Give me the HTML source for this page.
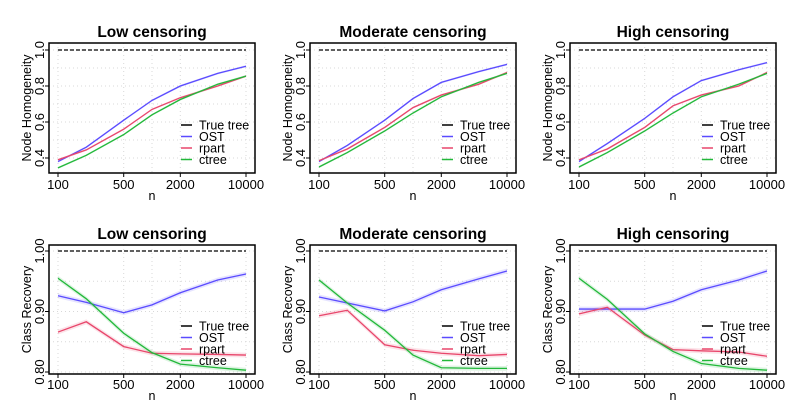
<!DOCTYPE html>
<html><head><meta charset="utf-8"><style>
body{margin:0;background:#fff}
svg{display:block;font-family:"Liberation Sans",Arial,sans-serif}
</style></head><body>
<svg id="c" width="809" height="410"></svg>
<script>
const nValues=[100,200,500,1000,2000,5000,10000];
const xTickLabels=[100,500,2000,10000];
const topTicks=[0.4,0.6,0.8,1.0];
const bottomTicks=[0.80,0.90,1.00];
const titles=["Low censoring","Moderate censoring","High censoring"];
const seriesNames=["True tree","OST","rpart","ctree"];
const colors=["#000000","#5a4bff","#e8466b","#22b83a"];
// Node homogeneity
const nhOST=[[0.38,0.46,0.61,0.72,0.80,0.87,0.91],[0.38,0.47,0.61,0.73,0.82,0.88,0.92],[0.38,0.48,0.62,0.74,0.83,0.89,0.93]];
const nhRpart=[[0.39,0.445,0.56,0.67,0.735,0.80,0.855],[0.385,0.45,0.57,0.68,0.75,0.81,0.875],[0.39,0.45,0.57,0.69,0.75,0.80,0.875]];
const nhCtree=[[0.345,0.415,0.53,0.64,0.725,0.81,0.855],[0.35,0.43,0.55,0.65,0.74,0.82,0.87],[0.35,0.43,0.55,0.65,0.74,0.81,0.87]];
// Class recovery
const crOST=[[0.926,0.915,0.898,0.911,0.931,0.952,0.962],[0.924,0.914,0.901,0.916,0.936,0.954,0.967],[0.904,0.904,0.904,0.917,0.936,0.952,0.967]];
const crRpart=[[0.866,0.883,0.842,0.831,0.830,0.829,0.828],[0.893,0.902,0.845,0.836,0.831,0.827,0.829],[0.896,0.907,0.861,0.837,0.835,0.833,0.826]];
const crCtree=[[0.955,0.921,0.864,0.832,0.813,0.807,0.803],[0.952,0.914,0.869,0.828,0.807,0.806,0.806],[0.955,0.920,0.863,0.834,0.814,0.806,0.803]];
const trueTree=1.0;

const svg=document.getElementById('c');
const NS="http://www.w3.org/2000/svg";
function mk(tag,attrs,parent){const e=document.createElementNS(NS,tag);for(const k in attrs)e.setAttribute(k,attrs[k]);(parent||svg).appendChild(e);return e;}
const offs=[0,261,521];
const rows=[
 {top:43,bot:173,yv1:1.0,yp1:50,yv0:0.4,yp0:158,ticks:topTicks,grid:[0.4,0.5,0.6,0.7,0.8,0.9,1.0],label:"Node Homogeneity",data:[nhOST,nhRpart,nhCtree],fmt:v=>v.toFixed(1),titleY:37,xlabY:189,nY:200,legY:125,key:"nh"},
 {top:245,bot:374,yv1:1.0,yp1:251,yv0:0.8,yp0:372,ticks:bottomTicks,grid:[0.8,0.85,0.9,0.95,1.0],label:"Class Recovery",data:[crOST,crRpart,crCtree],fmt:v=>v.toFixed(2),titleY:239,xlabY:389,nY:400,legY:326,key:"cr"}
];
rows.forEach((r,ri)=>{
 offs.forEach((o,pi)=>{
  const g=mk('g',{});
  
  
  const xs=n=>o+58+(Math.log10(n)-2)/2*188;
  const ys=v=>r.yp0+(v-r.yv0)/(r.yv1-r.yv0)*(r.yp1-r.yp0);
  [100,500,1000,2000,10000].forEach(n=>{const l=mk('line',{x1:xs(n),x2:xs(n),y1:r.top,y2:r.bot,stroke:'#d8d8d8','stroke-dasharray':'1,3'},g);});
  r.grid.forEach(v=>{const l=mk('line',{x1:o+49,x2:o+255,y1:ys(v),y2:ys(v),stroke:'#d8d8d8','stroke-dasharray':'1,3'},g);});
  const tt=mk('line',{x1:xs(100),x2:xs(10000),y1:ys(trueTree),y2:ys(trueTree),stroke:'#000','stroke-dasharray':'4,2','stroke-width':1.2},g);
  
  r.data.forEach((arr,si)=>{
   const vals=arr[pi];
   const bw=r.key=='cr'?0.004:0.006;
   const up=vals.map((v,i)=>xs(nValues[i])+','+ys(v+bw)).join(' ');
   const dn=vals.map((v,i)=>xs(nValues[i])+','+ys(v-bw)).reverse().join(' ');
   const band=mk('polygon',{points:up+' '+dn,fill:colors[si+1],opacity:0.15},g);
   
   const pl=mk('polyline',{points:vals.map((v,i)=>xs(nValues[i])+','+ys(v)).join(' '),fill:'none',stroke:colors[si+1],'stroke-width':1.3},g);
   
  });
  const fr=mk('rect',{x:o+49,y:r.top,width:206,height:r.bot-r.top,fill:'none',stroke:'#000','stroke-width':1.5},g);
  
  r.ticks.forEach(v=>{
   mk('line',{x1:o+45,x2:o+49,y1:ys(v),y2:ys(v),stroke:'#000'},g);
   const t=mk('text',{x:0,y:0,'font-size':13,'text-anchor':'middle',transform:`translate(${o+44},${ys(v)}) rotate(-90)`},g);
   t.textContent=r.fmt(v);
  });
  xTickLabels.forEach(n=>{
   mk('line',{x1:xs(n),x2:xs(n),y1:r.bot,y2:r.bot+4,stroke:'#000'},g);
   const t=mk('text',{x:xs(n),y:r.xlabY,'font-size':13,'text-anchor':'middle'},g);
   t.textContent=n;
  });
  const yl=mk('text',{x:0,y:0,'font-size':12.5,'text-anchor':'middle',transform:`translate(${o+31},${(r.top+r.bot)/2}) rotate(-90)`},g);
  yl.textContent=r.label;
  const xl=mk('text',{x:o+152,y:r.nY,'font-size':12.5,'text-anchor':'middle'},g);
  xl.textContent='n';
  const ti=mk('text',{x:o+152,y:r.titleY,'font-size':15.5,'font-weight':'bold','text-anchor':'middle'},g);
  ti.textContent=titles[pi];
  seriesNames.forEach((s,i)=>{
   const y=r.legY+i*11.5;
   const le=mk('g',{},g);
   
   mk('line',{x1:o+181,x2:o+192,y1:y,y2:y,stroke:colors[i],'stroke-width':1.5},le);
   const t=mk('text',{x:o+199,y:y+4.5,'font-size':12.5},le);t.textContent=s;
  });
 });
});
</script>
</body></html>
